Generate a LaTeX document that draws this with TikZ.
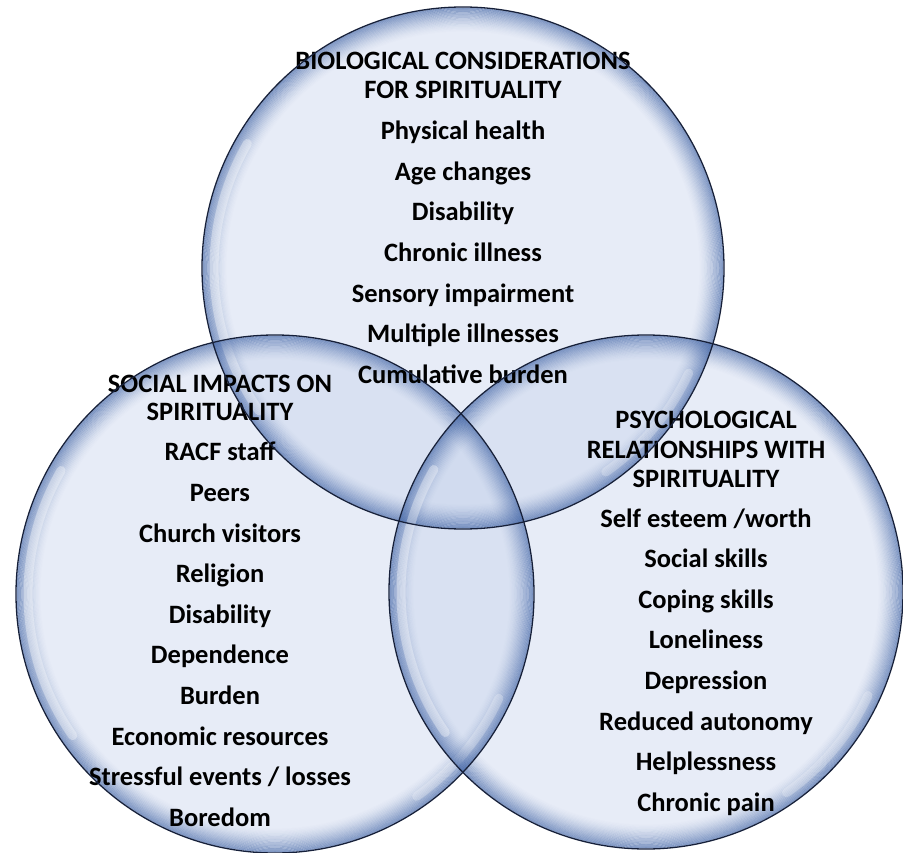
\documentclass[tikz,border=0pt]{standalone}
\usepackage{fontspec}
\setmainfont{Carlito}
\definecolor{bubblein}{RGB}{200,212,236}
\definecolor{bubbleband}{RGB}{65,100,165}
\definecolor{bubbleline}{RGB}{22,32,58}
\begin{document}
\begin{tikzpicture}
		[x=1pt,y=-1pt,
		bubble/.style={circle,fill=bubblein,fill opacity=0.42,inner sep=0pt,minimum size=#1},
		rim/.style={draw=bubbleline,line width=1.3pt},
		shine/.style={white,line width=9pt,line cap=round,draw opacity=0.35},
		head/.style={font=\fontsize{26.5}{30}\selectfont\bfseries,anchor=base},
		item/.style={font=\fontsize{26.5}{30}\selectfont\bfseries,anchor=base}]
		% page
		\fill[white] (0,0) rectangle (903,853);
		\useasboundingbox (0,0) rectangle (903,853);

		% the three bubbles
		\node [bubble=522pt] (bio) at (463,268) {};
		\node [bubble=518pt] (soc) at (275,594) {};
		\node [bubble=514pt] (psy) at (646,592) {};

		% soft blue band inside each rim
		\foreach \c/\r in {bio/261,soc/259,psy/257} {
			\foreach \k [evaluate=\k as \op using 0.62*(1-\k/21)^1.5] in {1,...,20}
				\draw [bubbleband, line width=1.3pt, draw opacity=\op] (\c.center) circle [radius=\r-\k*1.2];
			\draw [shine] (\c.center) ++(145:\r-12) arc [start angle=145, end angle=210, radius=\r-12];
			\draw [shine, draw opacity=0.25] (\c.center) ++(25:\r-12) arc [start angle=25, end angle=55, radius=\r-12];
		}

		% biological
		\node [head] (biohead1) at (463,70) {BIOLOGICAL CONSIDERATIONS};
		\node [head] (biohead2) at (463,99) {FOR SPIRITUALITY};
		\foreach \t [count=\i] in {Physical health, Age changes, Disability, Chronic illness,
			Sensory impairment, Multiple illnesses, Cumulative burden}
			\node [item] (bio\i) at (463,{99.5+40.5*\i}) {\t};

		% social
		\node [head] (sochead1) at (220,392) {SOCIAL IMPACTS ON};
		\node [head] (sochead2) at (220,420) {SPIRITUALITY};
		\foreach \t [count=\i] in {RACF staff, Peers, Church visitors, Religion, Disability,
			Dependence, Burden, Economic resources, {Stressful events / losses}, Boredom}
			\node [item] (soc\i) at (220,{420.3+40.6*\i}) {\t};

		% psychological
		\node [head] (psyhead1) at (706,428) {PSYCHOLOGICAL};
		\node [head] (psyhead2) at (706,458) {RELATIONSHIPS WITH};
		\node [head] (psyhead3) at (706,487) {SPIRITUALITY};
		\foreach \t [count=\i] in {{Self esteem /worth}, Social skills, Coping skills, Loneliness,
			Depression, Reduced autonomy, Helplessness, Chronic pain}
			\node [item] (psy\i) at (706,{486.5+40.6*\i}) {\t};

		% rims on top
		\draw [rim] (bio.center) circle [radius=261];
		\draw [rim] (soc.center) circle [radius=259];
		\draw [rim] (psy.center) circle [radius=257];
	\end{tikzpicture}
\end{document}
